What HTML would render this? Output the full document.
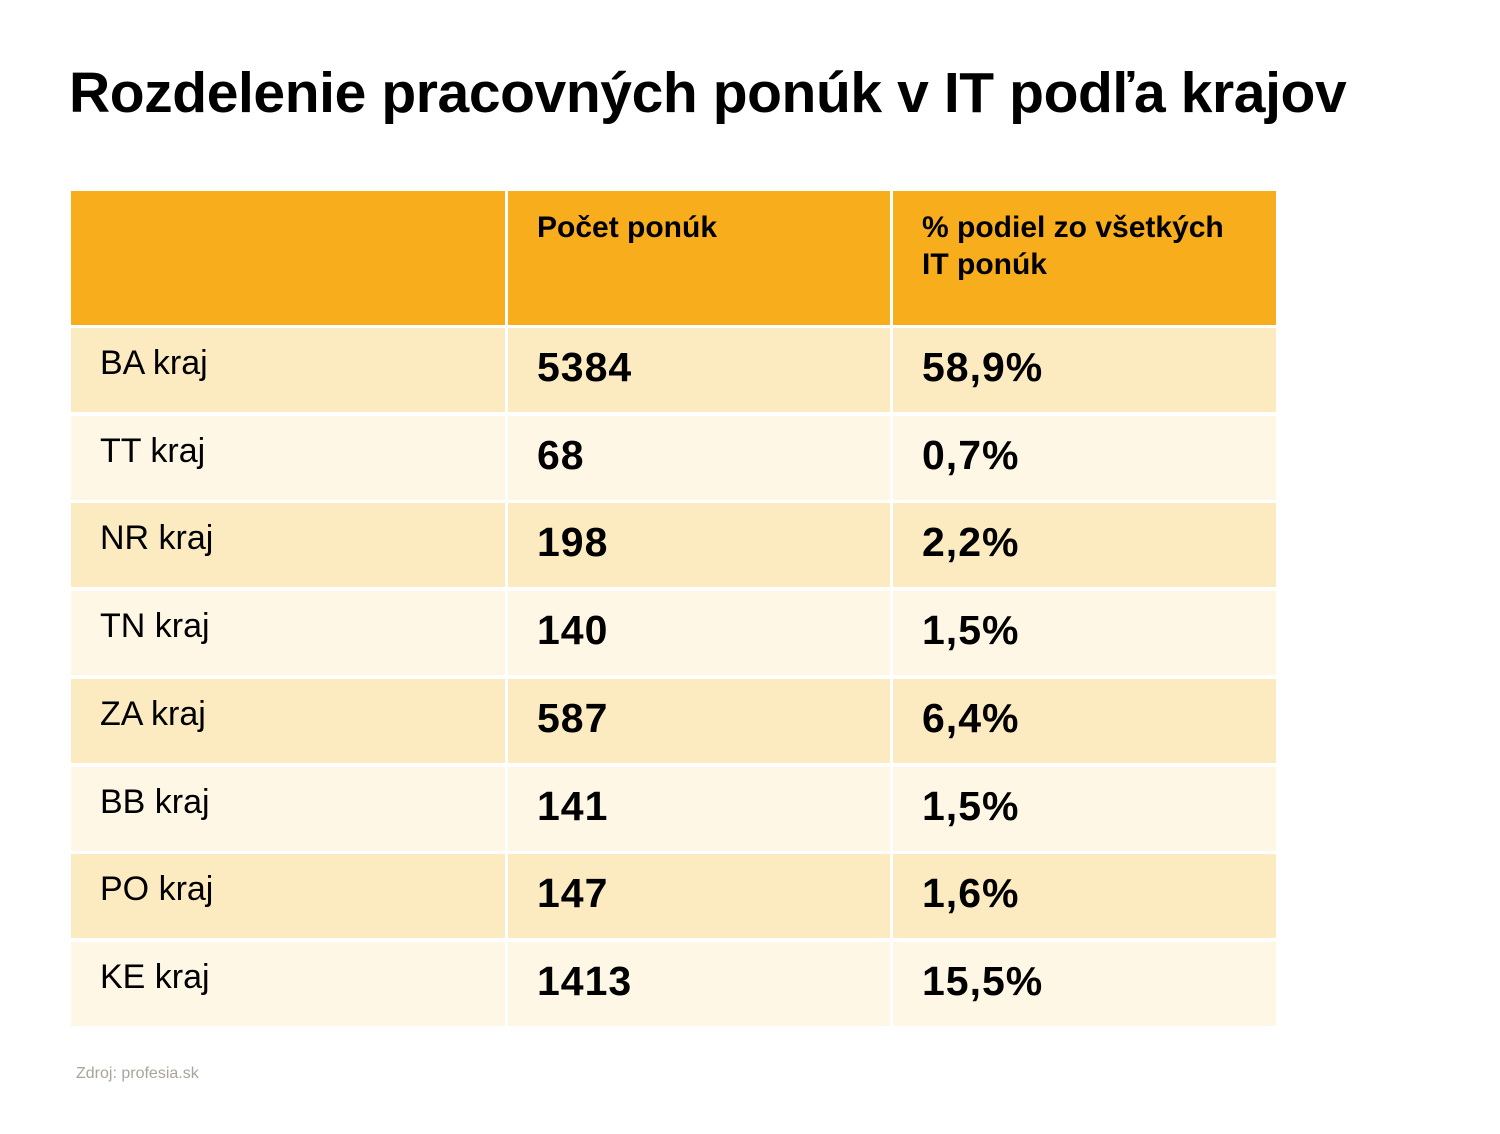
<!DOCTYPE html>
<html><head><meta charset="utf-8"><style>
body{margin:0;width:1500px;height:1134px;background:#fff;position:relative;overflow:hidden;font-family:"Liberation Sans",sans-serif;color:#000}
.t{position:absolute;left:69px;top:60px;font-size:57px;font-weight:bold;letter-spacing:-0.4px;white-space:nowrap}
.c{position:absolute;box-sizing:border-box}
.h{background:#F8AE1C;font-weight:bold;font-size:30px;line-height:37px;padding:18px 0 0 29px}
.lab{font-size:34px;padding:16px 0 0 29px}
.num{font-size:41px;font-weight:bold;padding:16px 0 0 29px;letter-spacing:1px}
.src{position:absolute;left:76px;top:1065px;font-size:16px;color:#aaa49a}
</style></head><body>
<div class="t">Rozdelenie pracovných ponúk v IT podľa krajov</div>
<div id="tbl"></div>
<div class="src">Zdroj: profesia.sk</div>
<script>
const regions=["BA kraj","TT kraj","NR kraj","TN kraj","ZA kraj","BB kraj","PO kraj","KE kraj"];
const counts=[5384,68,198,140,587,141,147,1413];
const shares=["58,9%","0,7%","2,2%","1,5%","6,4%","1,5%","1,6%","15,5%"];
const headers=["","Počet ponúk","% podiel zo všetkých<br>IT ponúk"];
const cols=[[71,434],[508,382],[893,383]];
const tbl=document.getElementById('tbl');
function cell(cls,x,y,w,h,html,bg,name){
  const d=document.createElement('div');
  d.className='c '+cls;
  d.style.left=x+'px';d.style.top=y+'px';d.style.width=w+'px';d.style.height=h+'px';
  if(bg)d.style.background=bg;
  d.innerHTML=html;
  
  
  tbl.appendChild(d);
}
headers.forEach((h,i)=>cell('h',cols[i][0],191,cols[i][1],134,h,null,'header-cell-'+(i+1)));
regions.forEach((r,i)=>{
  const y=328+i*87.7, bg=i%2===0?'#FCEBC1':'#FEF7E5';
  cell('lab',cols[0][0],y,cols[0][1],84,r,bg,'region-label');
  cell('num',cols[1][0],y,cols[1][1],84,String(counts[i]),bg,'count-value');
  cell('num',cols[2][0],y,cols[2][1],84,shares[i],bg,'share-value');
});
</script>
</body></html>
